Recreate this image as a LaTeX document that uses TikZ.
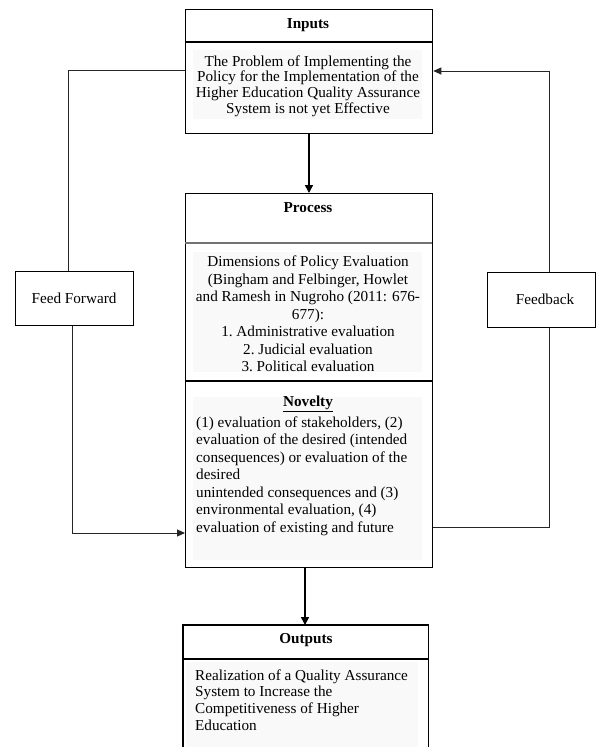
\documentclass[tikz,border=0pt]{standalone}
\usepackage{fontspec}
\setmainfont{Liberation Serif}
\usetikzlibrary{arrows.meta}
\begin{document}
\begin{tikzpicture}[x=1pt,y=-1pt,
  box/.style={draw=black, line width=1.3pt, inner sep=0pt},
  smallbox/.style={draw=black, line width=1pt, inner sep=0pt, font=\fontsize{15.2}{17}\selectfont},
  conn/.style={draw=black!85, line width=1pt},
  arr/.style={conn, -{Triangle[length=8pt,width=7pt]}},
  mainarr/.style={draw=black, line width=1.6pt, -{Triangle[length=8pt,width=8pt]}},
  shade/.style={fill=black!2.5, draw=none},
  title/.style={font=\bfseries\fontsize{15.2}{17}\selectfont, inner sep=0pt},
  txtA/.style={font=\fontsize{15.2}{15.6}\selectfont, inner sep=0pt},
  txtB/.style={font=\fontsize{15.2}{17.5}\selectfont, inner sep=0pt},
  txtC/.style={font=\fontsize{15.2}{16.7}\selectfont, inner sep=0pt},
]
\useasboundingbox (0,0) rectangle (595,747);
\fill[white] (0,0) rectangle (595,747);

% light text backgrounds
\fill[shade] (193,50) rectangle (422,119);
\fill[shade] (193,252) rectangle (422,372);
\fill[shade] (193,397) rectangle (422,560);
\fill[shade] (186,662) rectangle (418,747);

% main boxes
\node[box, anchor=north west, minimum width=247pt, minimum height=124pt] (inputs) at (185,9) {};
\draw[box] (185,42) -- (432,42);
\node[box, anchor=north west, minimum width=247pt, minimum height=374pt] (process) at (185,193) {};
\draw[draw=black!55, line width=1.3pt] (185,243) -- (432,243);
\draw[box] (185,381) -- (432,381);
\node[anchor=north west, minimum width=245pt, minimum height=130pt, inner sep=0pt] (outputs) at (183,625) {};
\draw[box] (outputs.south west) -- (outputs.north west) -- (outputs.north east) -- (outputs.south east);
\draw[box] (183,659) -- (428,659);

% side boxes
\node[smallbox, minimum width=118pt, minimum height=54pt] (ff) at (74,298) {Feed Forward};
\node[smallbox, minimum width=108pt, minimum height=55pt] (fb) at (541,299.5) {};
\node[font=\fontsize{15.2}{17}\selectfont, inner sep=0pt] (fbt) at (545,299.5) {Feedback};

% texts
\node[title] (inT) at (308,25) {Inputs};
\node[txtA, align=center] (inX) at (308,86) {The Problem of Implementing the\\Policy for the Implementation of the\\Higher Education Quality Assurance\\System is not yet Effective};
\node[title] (prT) at (308,208) {Process};
\node[txtB, align=center] (prX) at (308,314) {Dimensions of Policy Evaluation\\(Bingham and Felbinger, Howlet\\and Ramesh in Nugroho (2011: 676-\\677):\\1.\ Administrative evaluation\\2.\ Judicial evaluation\\3.\ Political evaluation};
\node[title] (nvT) at (308,404) {\underline{Novelty}};
\node[txtB, align=left, anchor=west] (nvX) at (196,476) {(1) evaluation of stakeholders, (2)\\evaluation of the desired (intended\\consequences) or evaluation of the\\desired\\unintended consequences and (3)\\environmental evaluation, (4)\\evaluation of existing and future};
\node[title] (ouT) at (306,640) {Outputs};
\node[txtC, align=left, anchor=west] (ouX) at (195,700) {Realization of a Quality Assurance\\System to Increase the\\Competitiveness of Higher\\Education};

% connectors
\coordinate (ia) at (309,0);
\draw[mainarr] (ia |- inputs.south) -- (ia |- process.north);
\coordinate (pa) at (305,0);
\draw[mainarr] (pa |- process.south) -- (pa |- outputs.north);

\coordinate (ffa) at (68,70);
\draw[conn] (ffa |- ff.north) -- (ffa) -- (ffa -| inputs.west);
\coordinate (ffb) at (72,533);
\draw[arr] (ffb |- ff.south) -- (ffb) -- (ffb -| process.west);

\coordinate (fba) at (549,71);
\coordinate (fbb) at (549,527);
\draw[conn] (fbb -| process.east) -- (fbb) -- (fbb |- fb.south);
\draw[arr] (fbb |- fb.north) -- (fba) -- (fba -| inputs.east);
\end{tikzpicture}
\end{document}
